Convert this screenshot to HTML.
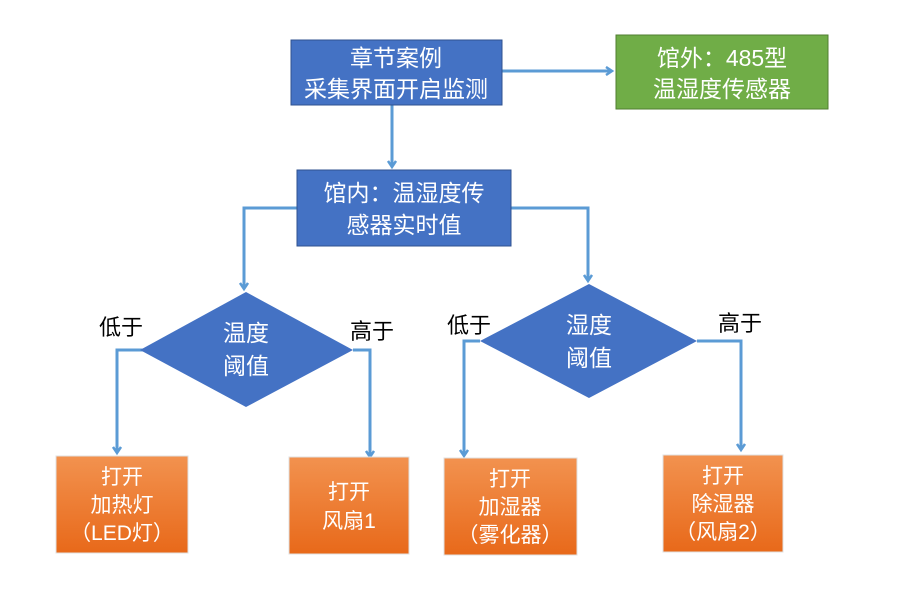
<!DOCTYPE html>
<html><head><meta charset="utf-8"><style>
body{margin:0;background:#fff;width:901px;height:586px;overflow:hidden}
svg text{font-family:"Liberation Sans","Noto Sans CJK SC",sans-serif}
</style></head><body>
<svg width="901" height="586" viewBox="0 0 901 586">
<defs>
<linearGradient id="og" x1="0" y1="0" x2="0" y2="1"><stop offset="0" stop-color="#F2924F"/><stop offset="1" stop-color="#E8691A"/></linearGradient>
<marker id="ar" markerWidth="10" markerHeight="10" refX="7" refY="5" orient="auto" markerUnits="userSpaceOnUse"><path d="M1,1 L7,5 L1,9" fill="none" stroke="#5B9BD5" stroke-width="2.5"/></marker>
</defs>
<g fill="none" stroke="#5B9BD5" stroke-width="3">
<path d="M502,71 L612,71" marker-end="url(#ar)"/>
<path d="M392,105 L392,167" marker-end="url(#ar)"/>
<path d="M297,208 L244,208 L244,289" marker-end="url(#ar)"/>
<path d="M511,208 L588,208 L588,281" marker-end="url(#ar)"/>
<path d="M152,350 L117,350 L117,453" marker-end="url(#ar)"/>
<path d="M353,350 L370,350 L370,457" marker-end="url(#ar)"/>
<path d="M480,341 L464,341 L464,456" marker-end="url(#ar)"/>
<path d="M697,341 L741,341 L741,450" marker-end="url(#ar)"/>
</g>
<rect x="291" y="40" width="211" height="65" fill="#4472C4" stroke="#2F528F"/>
<text x="396" y="66" fill="#fff" font-size="23" text-anchor="middle">章节案例</text>
<text x="396" y="97" fill="#fff" font-size="23" text-anchor="middle">采集界面开启监测</text>
<rect x="616" y="35" width="212" height="74" fill="#70AD47" stroke="#507E32"/>
<text x="722" y="66" fill="#fff" font-size="23" text-anchor="middle">馆外：485型</text>
<text x="722" y="97" fill="#fff" font-size="23" text-anchor="middle">温湿度传感器</text>
<rect x="297" y="170" width="214" height="76" fill="#4472C4" stroke="#2F528F"/>
<text x="404" y="201" fill="#fff" font-size="23" text-anchor="middle">馆内：温湿度传</text>
<text x="404" y="233" fill="#fff" font-size="23" text-anchor="middle">感器实时值</text>
<polygon points="246,292 353,350 246,407 140,350" fill="#4472C4"/>
<text x="246" y="341" fill="#fff" font-size="23" text-anchor="middle">温度</text>
<text x="246" y="374" fill="#fff" font-size="23" text-anchor="middle">阈值</text>
<polygon points="589,284 697,341 589,398 480,341" fill="#4472C4"/>
<text x="589" y="333" fill="#fff" font-size="23" text-anchor="middle">湿度</text>
<text x="589" y="366" fill="#fff" font-size="23" text-anchor="middle">阈值</text>
<text x="121" y="335" fill="#000" font-size="22" text-anchor="middle">低于</text>
<text x="372" y="339" fill="#000" font-size="22" text-anchor="middle">高于</text>
<text x="469" y="333" fill="#000" font-size="22" text-anchor="middle">低于</text>
<text x="740" y="331" fill="#000" font-size="22" text-anchor="middle">高于</text>
<rect x="56" y="456" width="132" height="97" fill="url(#og)" stroke="#E0E0E0"/>
<text x="122" y="484" fill="#fff" font-size="21" text-anchor="middle">打开</text>
<text x="122" y="512" fill="#fff" font-size="21" text-anchor="middle">加热灯</text>
<text x="122" y="540" fill="#fff" font-size="21" text-anchor="middle">（LED灯）</text>
<rect x="289" y="457" width="120" height="97" fill="url(#og)" stroke="#E0E0E0"/>
<text x="349" y="499" fill="#fff" font-size="21" text-anchor="middle">打开</text>
<text x="349" y="528" fill="#fff" font-size="21" text-anchor="middle">风扇1</text>
<rect x="444" y="458" width="133" height="97" fill="url(#og)" stroke="#E0E0E0"/>
<text x="510" y="486" fill="#fff" font-size="21" text-anchor="middle">打开</text>
<text x="510" y="514" fill="#fff" font-size="21" text-anchor="middle">加湿器</text>
<text x="510" y="542" fill="#fff" font-size="21" text-anchor="middle">（雾化器）</text>
<rect x="663" y="455" width="120" height="97" fill="url(#og)" stroke="#E0E0E0"/>
<text x="723" y="483" fill="#fff" font-size="21" text-anchor="middle">打开</text>
<text x="723" y="511" fill="#fff" font-size="21" text-anchor="middle">除湿器</text>
<text x="723" y="539" fill="#fff" font-size="21" text-anchor="middle">（风扇2）</text>
</svg>
</body></html>
